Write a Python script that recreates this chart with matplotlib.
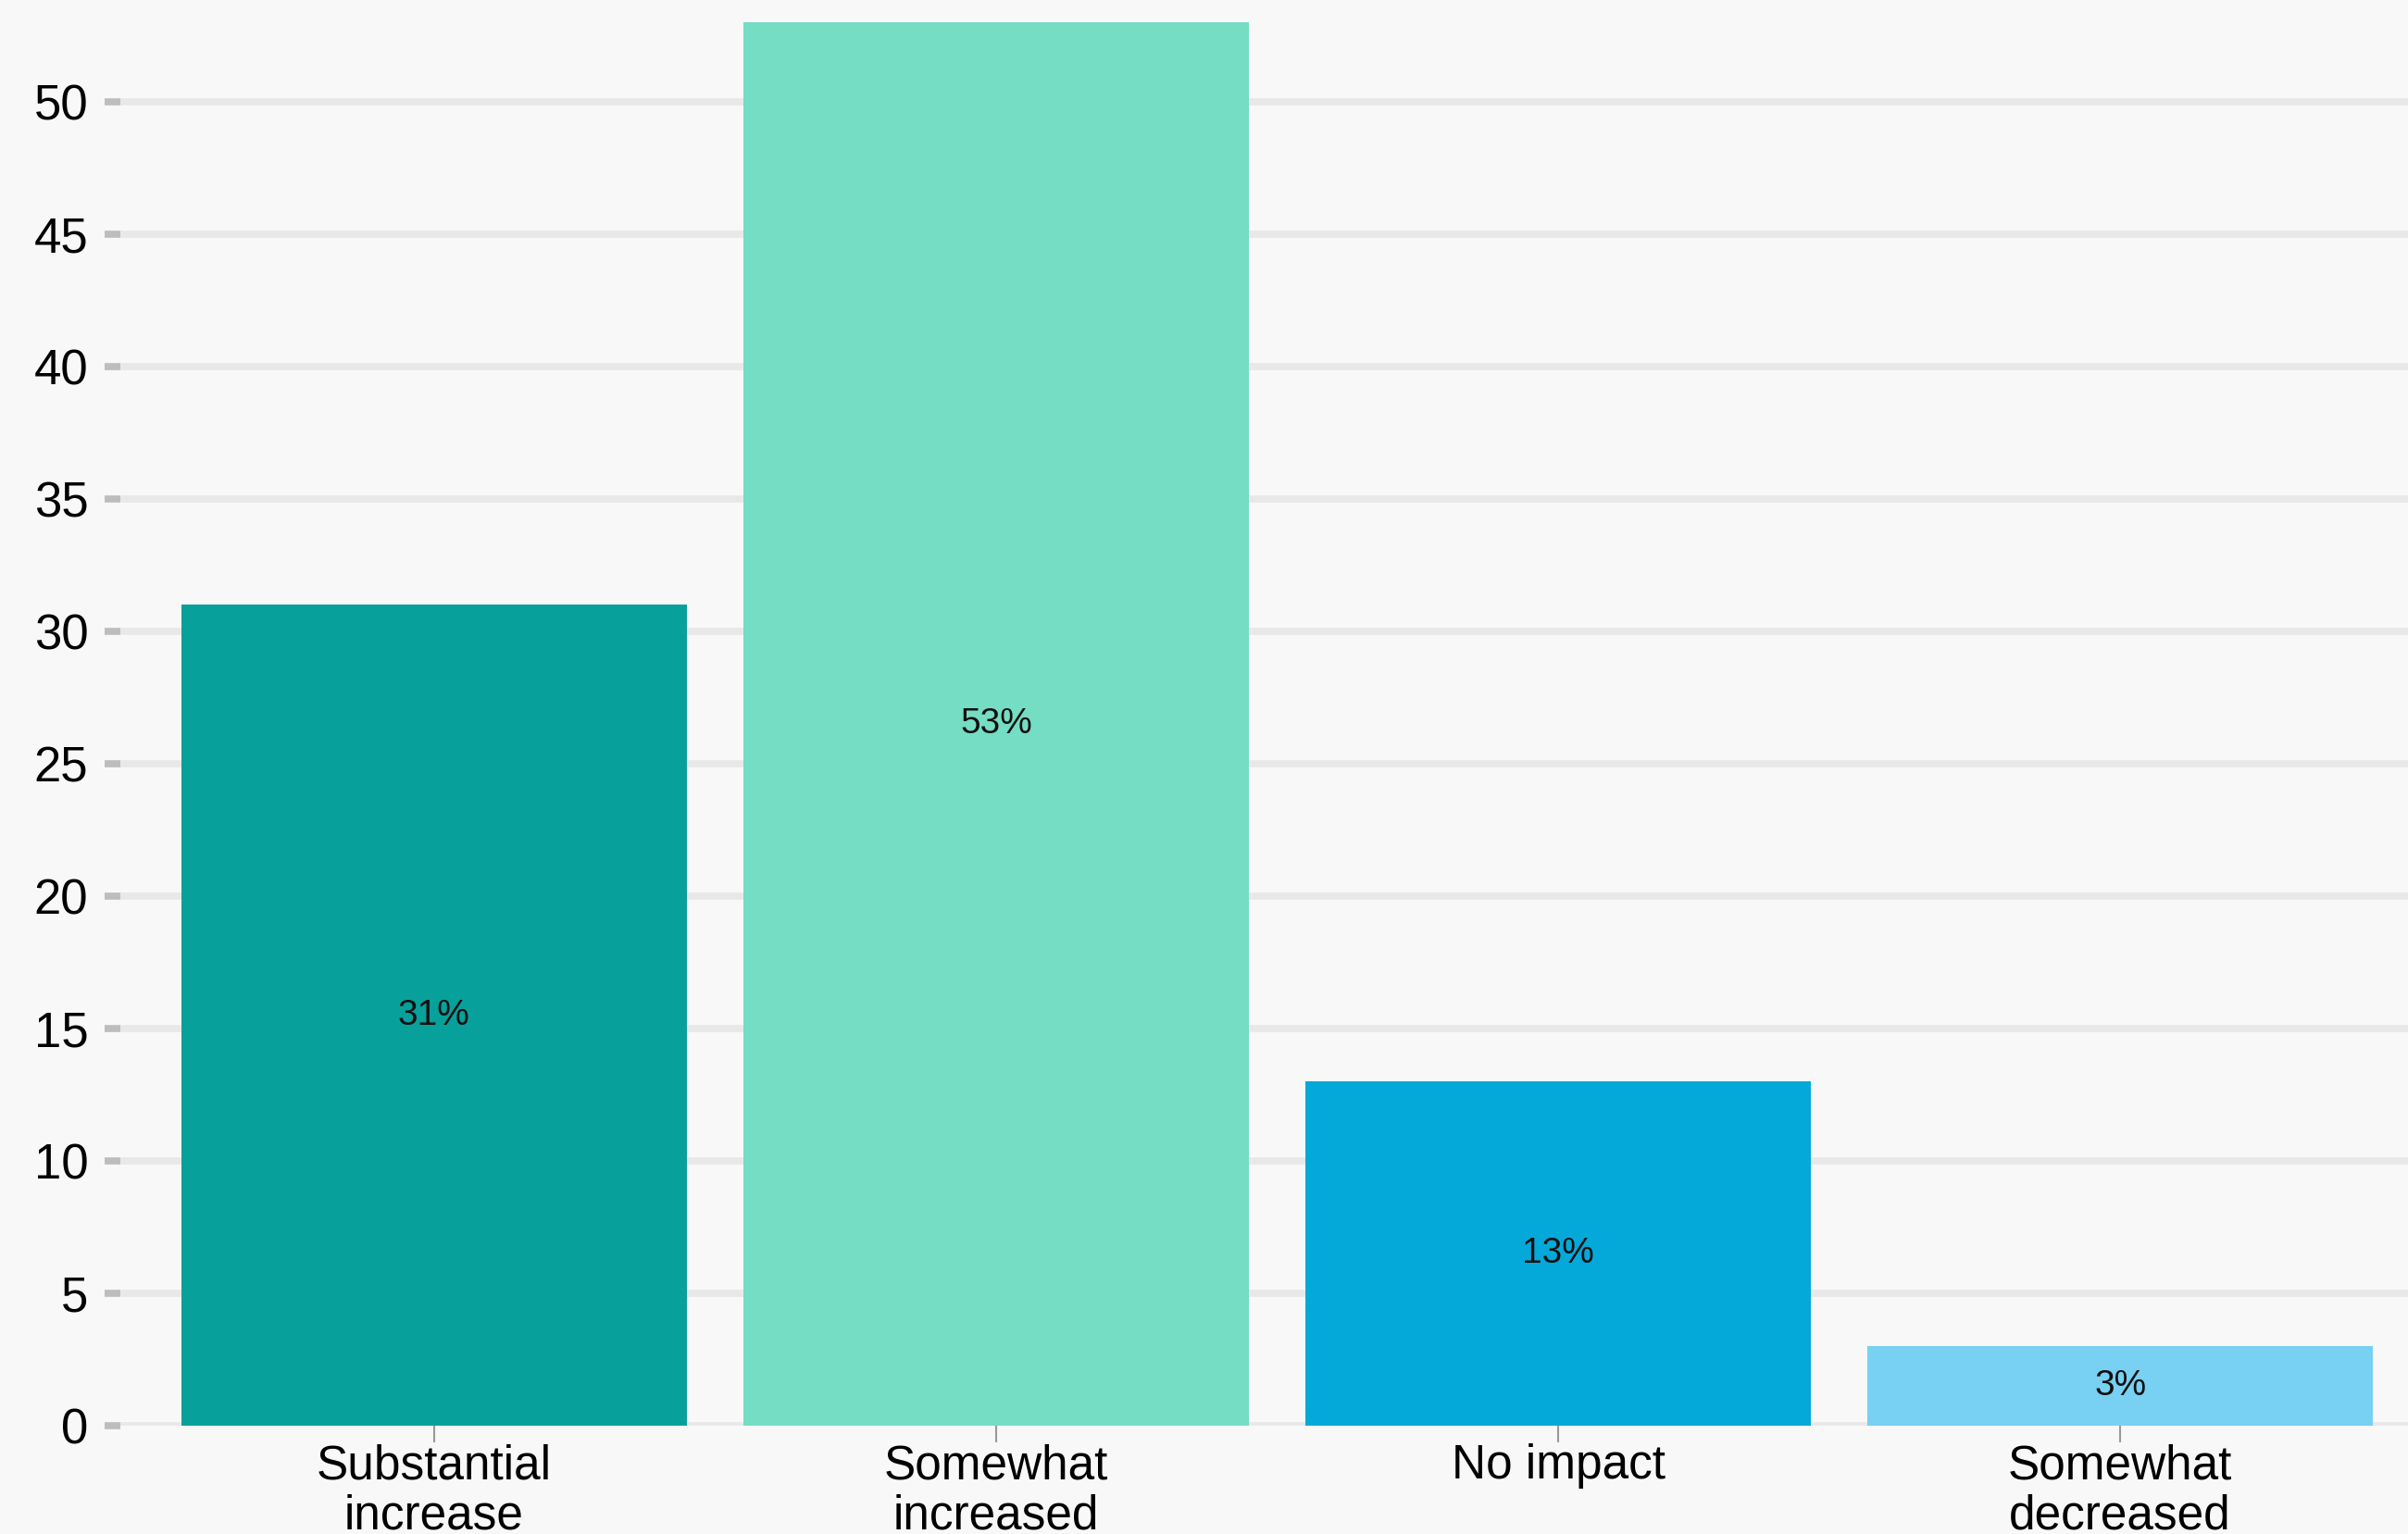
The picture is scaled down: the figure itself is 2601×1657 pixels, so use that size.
import numpy as np
import matplotlib.pyplot as plt

# survey answers and their share (percent)
categories = ['Substantial\nincrease', 'Somewhat\nincreased', 'No impact', 'Somewhat\ndecreased']
values = [31, 53, 13, 3]
labels = ['31%', '53%', '13%', '3%']
colors = ['#08a09a', '#74ddc4', '#04a9da', '#78d0f2']
yticks = [0, 5, 10, 15, 20, 25, 30, 35, 40, 45, 50]

plt.rcParams['font.family'] = ['Liberation Sans', 'DejaVu Sans']

W, H = 2601, 1657
fig = plt.figure(figsize=(W / 100, H / 100), dpi=100, facecolor='#f8f8f8')
ax = fig.add_axes([130 / W, (H - 1540) / H, (W - 130) / W, 1540 / H])
ax.set_facecolor('#f8f8f8')

x = np.arange(len(categories))
bars = ax.bar(x, values, width=0.9, color=colors, zorder=2)

for b, lab in zip(bars, labels):
    ax.text(b.get_x() + b.get_width() / 2, b.get_height() / 2, lab,
            ha='center', va='center', fontsize=28, color='#111111', zorder=3)

ax.set_xlim(-0.558, 3.512)
ax.set_ylim(0, 53.85)
ax.set_yticks(yticks)
ax.set_xticks(x)
ax.set_xticklabels(categories, fontsize=37, linespacing=1.12)
ax.tick_params(axis='y', labelsize=38, length=12, width=5.5, color='#bdbdbd', pad=13)
ax.tick_params(axis='x', length=13, width=1.5, color='#999999', pad=1)

ax.grid(axis='y', color='#e8e8e8', linewidth=5.5, zorder=0)
ax.set_axisbelow(True)
for s in ax.spines.values():
    s.set_visible(False)

fig.savefig('out.png', dpi=100, facecolor=fig.get_facecolor())
